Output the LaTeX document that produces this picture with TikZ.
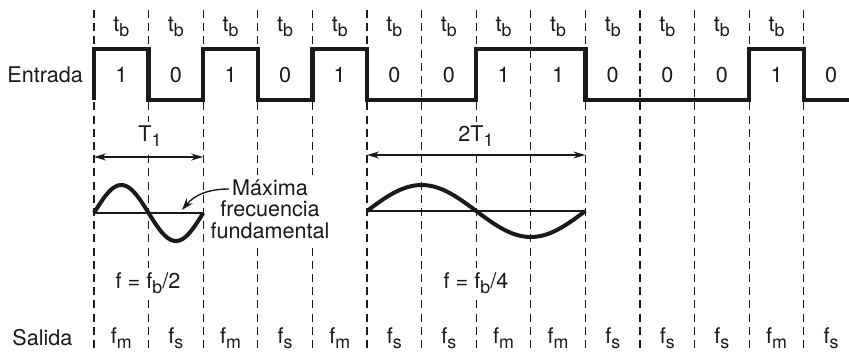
\documentclass[tikz,border=0pt]{standalone}
\usepackage{fontspec}
\setmainfont{TeX Gyre Heros}
\usetikzlibrary{arrows.meta,positioning}
\definecolor{ink}{HTML}{1A1A1A}
\newcommand{\lo}[1]{\raisebox{-.45ex}{\fontsize{8.9}{9}\selectfont #1}}
\tikzset{sig/.style={line width=2.2pt,draw=ink,line join=miter},
  sine/.style={line width=2pt,draw=ink},
  axisln/.style={line width=.7pt,draw=ink},
  divline/.style={draw=ink,line width=.55pt,dash pattern=on 4pt off 2.6pt},
  lbl/.style={font=\fontsize{10.8}{11}\selectfont,text=ink,inner sep=1pt},
  tag/.style={lbl,fill=white,inner sep=2pt},
  dim/.style={draw=ink,line width=.6pt,{Stealth[length=6pt,width=3.5pt]}-{Stealth[length=6pt,width=3.5pt]}}}

\begin{document}
\begin{tikzpicture}[x=.5pt,y=-.5pt]
\useasboundingbox (0,0) rectangle (849,352);
% bit cells
\foreach \k in {0,...,13}{
  \coordinate (h\k) at (94+54.6*\k,49);
  \coordinate (l\k) at (94+54.6*\k,100);
  \draw[divline] (94+54.6*\k,10) -- (94+54.6*\k,352);}
\coordinate (lend) at (849,100);
\node[lbl,anchor=west] (in) at (5,75) {Entrada};
\node[lbl,anchor=west] (out) at (10,338) {Salida};
\foreach \i in {0,...,12} \node[lbl] (tb\i) at (121.3+54.6*\i,27) {t\lo{b}};
\foreach \b [count=\i from 0] in {1,0,1,0,1,0,0,1,1,0,0,0,1,0}
  \node[lbl] (bit\i) at (121.3+54.6*\i,75) {\b};
\foreach \f [count=\i from 0] in {m,s,m,s,m,s,s,m,m,s,s,s,m,s}
  \node[lbl] (fo\i) at (121.3+54.6*\i,338) {f\lo{\f}};
\draw[sig] (l0)--(h0)--(h1)--(l1)--(l2)--(h2)--(h3)--(l3)--(l4)--(h4)--(h5)--(l5)
  --(l7)--(h7)--(h9)--(l9)--(l12)--(h12)--(h13)--(l13)--(lend);
% periods
\coordinate (p1a) at (94,157); \coordinate (p1b) at (203.2,157);
\coordinate (p2a) at (367,155); \coordinate (p2b) at (585.4,155);
\node[tag] (T1) at (150,136) {T\lo{1}};
\node[tag] (T2) at (476,136) {2T\lo{1}};
\draw[dim] (p1a) -- (p1b);
\draw[dim] (p2a) -- (p2b);
% sine waves
\coordinate (s1a) at (94,213); \coordinate (s1b) at (203.2,213);
\coordinate (s2a) at (367,211); \coordinate (s2b) at (585.4,211);
\draw[axisln] (s1a) -- (s1b);
\draw[axisln] (s2a) -- (s2b);
\draw[sine] plot[domain=0:360,samples=61,smooth] ({94+\x/360*109.2},{213-28*sin(\x)});
\draw[sine] plot[domain=0:360,samples=61,smooth] ({367+\x/360*218.4},{211-26*sin(\x)});
\node[tag,align=center,font=\fontsize{10.8}{10.8}\selectfont] (note) at (270,209) {Máxima\\frecuencia\\fundamental};
\coordinate (nstart) at (229,189); \coordinate (tip) at (182,210);
\draw[draw=ink,line width=.7pt,-{Stealth[length=6pt,width=4pt]}] (nstart) to[out=180,in=50] (tip);
\node[tag] (f2) at (148,283) {f = f\lo{b}/2};
\node[tag] (f4) at (476,283) {f = f\lo{b}/4};
\end{tikzpicture}
\end{document}
